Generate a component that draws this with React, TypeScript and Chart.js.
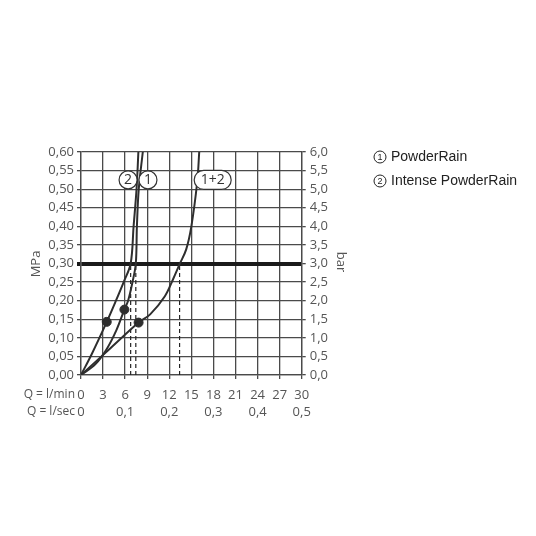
import { useEffect, useRef } from "react";
import { Chart, registerables } from "chart.js";
Chart.register(...registerables);

// Flow (l/min) vs pressure (MPa) curves
const curve1Q = [0, 2, 3.5, 4.8, 5.9, 6.4, 7.0, 7.45, 7.6, 7.85, 8.4];
const curve1P = [0, 0.03, 0.07, 0.12, 0.176, 0.2, 0.25, 0.3, 0.4, 0.5, 0.6];
const curve2Q = [0, 1.5, 3.5, 4.75, 5.8, 6.75, 7.15, 7.55, 7.8];
const curve2P = [0, 0.058, 0.143, 0.2, 0.25, 0.3, 0.4, 0.5, 0.6];
const curve12Q = [0, 4, 7.83, 9.4, 11.4, 12.5, 13.45, 14.3, 15.0, 15.8, 16.07];
const curve12P = [0, 0.072, 0.141, 0.163, 0.212, 0.257, 0.3, 0.338, 0.4, 0.52, 0.6];

// Marker dots (curve 1, curve 2, curve 1+2)
const markerQ = [5.9, 3.5, 7.83];
const markerP = [0.176, 0.143, 0.141];

// Dashed flow lines at the reference pressure
const refPressure = 0.3;
const dashQ = [6.75, 7.45, 13.4];

// Curve labels
const labelTexts = ["1", "2", "1+2"];
const labelQ = [9.1, 6.4, 17.9];
const labelP = [0.525, 0.525, 0.525];

const legendNumbers = ["1", "2"];
const legendNames = ["PowderRain", "Intense PowderRain"];

const xMin = 0, xMax = 30, xStep = 3;
const yMin = 0, yMax = 0.6, yStep = 0.05;
const barMax = 6, barStep = 0.5;
const lsecMax = 0.5, lsecStep = 0.1;

const LINE = "#2e2e2e";
const GRID = "#4a4a4a";
const TEXT = "#555555";
const FONT = "'Open Sans', sans-serif";
const FSIZE = 13;

const pts = (q: number[], p: number[]) => q.map((v, i) => ({ x: v, y: p[i] }));

export default function App() {
  const ref = useRef<HTMLCanvasElement>(null);
  useEffect(() => {
    if (!ref.current) return;
    const curveDs = (q: number[], p: number[]) => ({
      type: "line" as const,
      data: pts(q, p),
      borderColor: LINE,
      borderWidth: 2,
      pointRadius: 0,
      tension: 0.35,
      fill: false,
    });
    const dashDs = dashQ.map((q) => ({
      type: "line" as const,
      data: [{ x: q, y: 0 }, { x: q, y: refPressure }],
      borderColor: "#222",
      borderWidth: 1.2,
      borderDash: [4, 3],
      pointRadius: 0,
      fill: false,
    }));
    const overlay = {
      id: "overlay",
      afterDatasetsDraw(chart: any) {
        const c = chart.ctx;
        const xs = chart.scales.x;
        const ys = chart.scales.y;
        c.save();
        // curve labels
        labelTexts.forEach((t, i) => {
          const cx = xs.getPixelForValue(labelQ[i]);
          const cy = ys.getPixelForValue(labelP[i]);
          c.beginPath();
          if (t.length === 1) {
            c.arc(cx, cy, 9, 0, Math.PI * 2);
          } else {
            const w = 37, h = 19, r = 9.5;
            c.moveTo(cx - w / 2 + r, cy - h / 2);
            c.lineTo(cx + w / 2 - r, cy - h / 2);
            c.arc(cx + w / 2 - r, cy, r, -Math.PI / 2, Math.PI / 2);
            c.lineTo(cx - w / 2 + r, cy + h / 2);
            c.arc(cx - w / 2 + r, cy, r, Math.PI / 2, Math.PI * 1.5);
            c.closePath();
          }
          c.fillStyle = "#fff";
          c.fill();
          c.strokeStyle = "#333";
          c.lineWidth = 1.2;
          c.stroke();
          c.fillStyle = "#333";
          c.font = "14px " + FONT;
          c.textAlign = "center";
          c.textBaseline = "middle";
          c.fillText(t, cx, cy + 0.5);
        });
        // row labels for bottom axes
        c.fillStyle = TEXT;
        c.font = "12px " + FONT;
        c.textAlign = "right";
        c.textBaseline = "middle";
        c.fillText("Q = l/min", 75, 395);
        c.fillText("Q = l/sec", 75, 412);
        // axis titles
        c.font = FSIZE + "px " + FONT;
        c.save();
        c.translate(36, 264);
        c.rotate(-Math.PI / 2);
        c.textAlign = "center";
        c.fillText("MPa", 0, 0);
        c.restore();
        c.save();
        c.translate(341, 262);
        c.rotate(Math.PI / 2);
        c.textAlign = "center";
        c.fillText("bar", 0, 0);
        c.restore();
        // legend
        legendNames.forEach((name, i) => {
          const cy = 157 + i * 24;
          c.beginPath();
          c.arc(380, cy, 6, 0, Math.PI * 2);
          c.strokeStyle = "#222";
          c.lineWidth = 1;
          c.stroke();
          c.fillStyle = "#222";
          c.font = "9px 'Liberation Sans', Arial, sans-serif";
          c.textAlign = "center";
          c.textBaseline = "middle";
          c.fillText(legendNumbers[i], 380, cy + 0.5);
          c.font = "14px 'Liberation Sans', Arial, sans-serif";
          c.textAlign = "left";
          c.fillText(name, 391, cy);
        });
        c.restore();
      },
    };
    const chart = new Chart(ref.current, {
      type: "line",
      data: {
        datasets: [
          curveDs(curve1Q, curve1P),
          curveDs(curve2Q, curve2P),
          curveDs(curve12Q, curve12P),
          ...dashDs,
          {
            type: "scatter",
            data: pts(markerQ, markerP),
            backgroundColor: LINE,
            borderColor: LINE,
            pointRadius: 4.5,
            showLine: false,
          },
        ] as any,
      },
      options: {
        animation: false,
        responsive: false,
        events: [],
        layout: { padding: { left: 0, top: 152, right: 174.3, bottom: 112 } },
        plugins: { legend: { display: false }, tooltip: { enabled: false } },
        scales: {
          x: {
            type: "linear",
            position: "bottom",
            weight: 0,
            min: xMin,
            max: xMax,
            ticks: {
              stepSize: xStep,
              color: TEXT,
              font: { family: FONT, size: FSIZE },
              padding: 8,
              maxRotation: 0,
              autoSkip: false,
              maxTicksLimit: 20,
            },
            grid: { color: GRID, lineWidth: 1.3, tickLength: 4 },
            border: { color: GRID, width: 1.3 },
            afterFit: (s: any) => { s.height = 29; },
          },
          x2: {
            type: "linear",
            position: "bottom",
            weight: 1,
            min: 0,
            max: lsecMax,
            ticks: {
              stepSize: lsecStep,
              color: TEXT,
              font: { family: FONT, size: FSIZE },
              padding: 0,
              maxRotation: 0,
              autoSkip: false,
              maxTicksLimit: 20,
              callback: (v: any) => (v === 0 ? "0" : Number(v).toFixed(1).replace(".", ",")),
            },
            grid: { display: false, drawTicks: false },
            border: { display: false },
            afterFit: (s: any) => { s.height = 20; },
          },
          y: {
            type: "linear",
            position: "left",
            min: yMin,
            max: yMax,
            ticks: {
              stepSize: yStep,
              color: TEXT,
              font: { family: FONT, size: FSIZE },
              padding: 3,
              autoSkip: false,
              maxTicksLimit: 20,
              callback: (v: any) => Number(v).toFixed(2).replace(".", ","),
            },
            grid: {
              color: (ctx: any) => (ctx.tick && Math.abs(ctx.tick.value - refPressure) < 1e-6 ? "#1a1a1a" : GRID),
              lineWidth: (ctx: any) => (ctx.tick && Math.abs(ctx.tick.value - refPressure) < 1e-6 ? 4 : 1.3),
              tickLength: 4,
            },
            border: { color: GRID, width: 1.3 },
            afterFit: (s: any) => { s.width = 81; },
          },
          y2: {
            type: "linear",
            position: "right",
            min: 0,
            max: barMax,
            ticks: {
              stepSize: barStep,
              color: TEXT,
              font: { family: FONT, size: FSIZE },
              padding: 4,
              autoSkip: false,
              maxTicksLimit: 20,
              callback: (v: any) => Number(v).toFixed(1).replace(".", ","),
            },
            grid: { drawOnChartArea: false, color: GRID, lineWidth: 1.3, tickLength: 4 },
            border: { color: GRID, width: 1.3 },
            afterFit: (s: any) => { s.width = 60; },
          },
        },
      } as any,
      plugins: [overlay],
    });
    return () => chart.destroy();
  }, []);
  return (
    <div style={{ position: "fixed", left: 0, top: 0, width: 536, height: 536, background: "#fff" }}>
      <canvas ref={ref} width={536} height={536} style={{ display: "block" }} />
    </div>
  );
}
